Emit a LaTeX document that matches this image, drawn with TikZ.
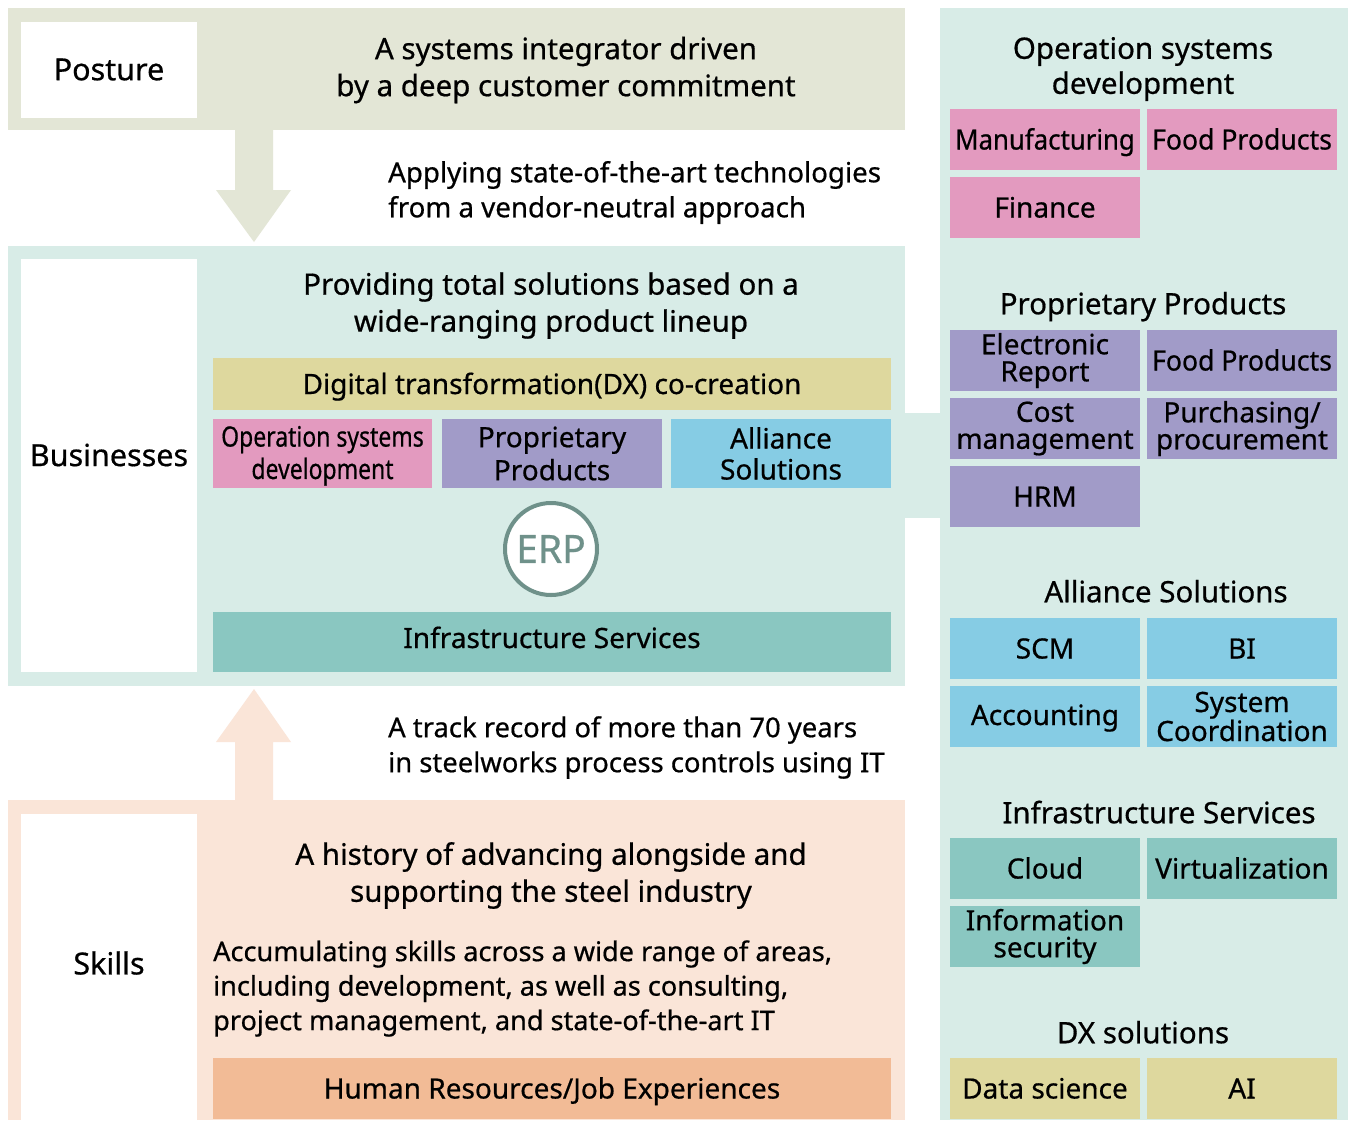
\documentclass[tikz,border=0pt]{standalone}
\usepackage{fontspec}
\setmainfont{Noto Sans}[FakeBold=0.6]
\definecolor{postureBg}{HTML}{E3E6D6}
\definecolor{tealBg}{HTML}{D8ECE7}
\definecolor{skillBg}{HTML}{FAE5D8}
\definecolor{dxKhaki}{HTML}{DED89E}
\definecolor{opPink}{HTML}{E39ABF}
\definecolor{propPurple}{HTML}{A19BC8}
\definecolor{allBlue}{HTML}{86CCE4}
\definecolor{infTeal}{HTML}{8AC7C1}
\definecolor{hrOrange}{HTML}{F2BB96}
\definecolor{erpRing}{HTML}{6F918A}
\tikzset{
  panel/.style={fill=#1, draw=none, inner sep=0pt, outer sep=0pt, anchor=north west},
  blk/.style={fill=#1, draw=none, inner sep=0pt, outer sep=0pt, align=center, font=\fontsize{28}{27}\selectfont},
  blko/.style={blk=#1, text height=20pt, text depth=0pt},
  ttl/.style={align=center, inner sep=0pt, yshift=-2pt, font=\fontsize{29.5}{37}\selectfont},
  bodytxt/.style={align=left, inner sep=0pt, anchor=west, yshift=-3pt, font=\fontsize{27.7}{35}\selectfont},
  sideL/.style={font=\fontsize{30.5}{35}\selectfont, inner sep=0pt},
  rtitle/.style={align=center, inner sep=0pt, yshift=-2.5pt, font=\fontsize{29.5}{35}\selectfont},
  rtitleo/.style={rtitle, text height=22pt, text depth=6.5pt},
}
\begin{document}
\begin{tikzpicture}[x=1pt,y=-1pt]
\useasboundingbox (0,0) rectangle (1348,1120);
\fill[white] (0,0) rectangle (1348,1120);
% panels
\node[panel=postureBg, minimum width=897pt, minimum height=122pt] (posP) at (8,8) {};
\node[panel=tealBg, minimum width=897pt, minimum height=440pt] (busP) at (8,246) {};
\node[panel=skillBg, minimum width=897pt, minimum height=320pt] (skiP) at (8,800) {};
\node[panel=tealBg, minimum width=408pt, minimum height=1112pt] (rightP) at (940,8) {};
\node[panel=tealBg, minimum width=36pt, minimum height=105pt] (band) at (904.5,413) {};
% white label boxes
\node[panel=white, minimum width=176pt, minimum height=96pt] (posW) at (21,22) {};
\node[panel=white, minimum width=176pt, minimum height=413pt] (busW) at (21,259) {};
\node[panel=white, minimum width=176pt, minimum height=306pt] (skiW) at (21,814) {};
\node[sideL] (posL) at (109,69.5) {Posture};
\node[sideL] (busL) at (109,455) {Businesses};
\node[sideL] (skiL) at (109,963) {Skills};
% arrows
\fill[postureBg] (235,130) -- (273,130) -- (273,190) -- (291,190) -- (254,242) -- (216,190) -- (235,190) -- cycle;
\fill[skillBg] (235,800) -- (235,742) -- (216,742) -- (254,689) -- (291,742) -- (273,742) -- (273,800) -- cycle;
% posture texts
\node[ttl] (posT) at (566,68) {A systems integrator driven\\by a deep customer commitment};
\node[bodytxt] (applyT) at (388,189.5) {Applying state-of-the-art technologies\\from a vendor-neutral approach};
% businesses
\node[ttl] (busT) at (551,303.5) {Providing total solutions based on a\\wide-ranging product lineup};
\node[blko=dxKhaki, minimum width=678pt, minimum height=52pt] (dx) at (552,384) {Digital transformation(DX) co-creation};
\node[blk=opPink, minimum width=219pt, minimum height=69pt] (op) at (322.5,453.5) {\raisebox{-3pt}[\height][\depth]{\scalebox{0.82}[1]{\begin{tabular}{@{}c@{}}Operation systems\\[3pt]development\end{tabular}}}};
\node[blk=propPurple, minimum width=220pt, minimum height=69pt] (prop) at (552,453.5) {Proprietary\\[4pt]Products};
\node[blk=allBlue, minimum width=220pt, minimum height=69pt] (all) at (781,453.5) {Alliance\\[4pt]Solutions};
\node[circle, draw=erpRing, line width=4pt, fill=white, minimum size=92pt, inner sep=0pt, text=erpRing, font=\fontsize{39}{40}\selectfont] (erp) at (551,549) {ERP};
\node[blk=infTeal, text height=20pt, text depth=8pt, minimum width=678pt, minimum height=60pt] (inf) at (552,642) {Infrastructure Services};
% skills
\node[bodytxt, font=\fontsize{27.4}{35}\selectfont] (trackT) at (388,744.5) {A track record of more than 70 years\\in steelworks process controls using IT};
\node[ttl] (hisT) at (551,873.5) {A history of advancing alongside and\\supporting the steel industry};
\node[bodytxt, font=\fontsize{27.1}{34.5}\selectfont] (accT) at (213,985.5) {Accumulating skills across a wide range of areas,\\including development, as well as consulting,\\project management, and state-of-the-art IT};
\node[blko=hrOrange, minimum width=678pt, minimum height=61pt] (hr) at (552,1088.5) {Human Resources/Job Experiences};
% right panel
\node[rtitle] (rOpT) at (1143,66.5) {Operation systems\\development};
\node[blko=opPink, minimum width=190pt, minimum height=61pt] (rMan) at (1045,139.5) {\scalebox{0.92}[1]{Manufacturing}};
\node[blko=opPink, minimum width=190pt, minimum height=61pt] (rFood) at (1242,139.5) {\scalebox{0.95}[1]{Food Products}};
\node[blko=opPink, minimum width=190pt, minimum height=61pt] (rFin) at (1045,207.5) {Finance};

\node[rtitleo] (rPropT) at (1143,304) {Proprietary Products};
\node[blk=propPurple, minimum width=190pt, minimum height=61pt] (rEle) at (1045,360.5) {Electronic\\Report};
\node[blko=propPurple, minimum width=190pt, minimum height=61pt] (rPFood) at (1242,360.5) {\scalebox{0.95}[1]{Food Products}};
\node[blk=propPurple, minimum width=190pt, minimum height=61pt] (rCost) at (1045,428.5) {Cost\\management};
\node[blk=propPurple, minimum width=190pt, minimum height=61pt] (rPur) at (1242,428.5) {Purchasing/\\procurement};
\node[blko=propPurple, minimum width=190pt, minimum height=61pt] (rHRM) at (1045,496.5) {HRM};

\node[rtitleo] (rAllT) at (1166,592) {Alliance Solutions};
\node[blko=allBlue, minimum width=190pt, minimum height=61pt] (rSCM) at (1045,648.5) {SCM};
\node[blko=allBlue, minimum width=190pt, minimum height=61pt] (rBI) at (1242,648.5) {BI};
\node[blko=allBlue, text depth=3pt, minimum width=190pt, minimum height=61pt] (rAcc) at (1045,716.5) {Accounting};
\node[blk=allBlue, minimum width=190pt, minimum height=61pt] (rSys) at (1242,716.5) {System\\Coordination};

\node[rtitleo] (rInfT) at (1159,813) {Infrastructure Services};
\node[blko=infTeal, minimum width=190pt, minimum height=61pt] (rCloud) at (1045,868.5) {Cloud};
\node[blko=infTeal, minimum width=190pt, minimum height=61pt] (rVirt) at (1242,868.5) {Virtualization};
\node[blk=infTeal, minimum width=190pt, minimum height=61pt] (rSec) at (1045,936.5) {Information\\security};

\node[rtitleo] (rDXT) at (1143,1033) {DX solutions};
\node[blko=dxKhaki, minimum width=190pt, minimum height=61pt] (rDS) at (1045,1088.5) {Data science};
\node[blko=dxKhaki, minimum width=190pt, minimum height=61pt] (rAI) at (1242,1088.5) {AI};
\end{tikzpicture}
\end{document}
